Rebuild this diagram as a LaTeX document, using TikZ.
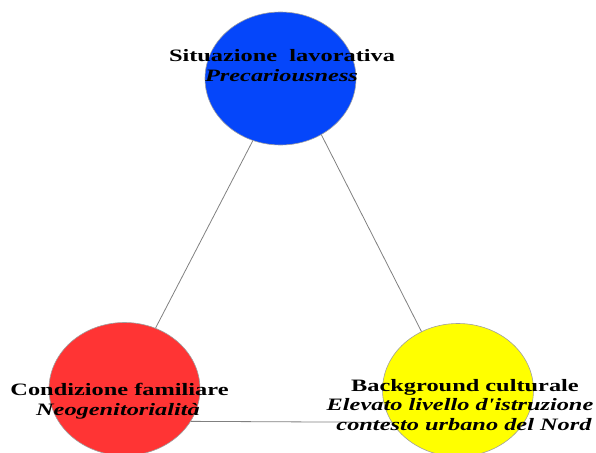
\documentclass[tikz,border=0pt]{standalone}
\usepackage{fontspec}
\setmainfont{Liberation Serif}
\usetikzlibrary{shapes.geometric}
\definecolor{cblue}{RGB}{5,70,250}
\definecolor{cred}{RGB}{255,52,52}
\definecolor{cyell}{RGB}{255,255,0}
\definecolor{clink}{RGB}{128,128,128}
\newcommand{\wtxt}[1]{\scalebox{1.4}[1]{#1}}
\tikzset{
  blob/.style={ellipse, draw=gray!75, line width=0.6pt, minimum width=151pt, minimum height=133pt, inner sep=0pt},
  link/.style={draw=clink, line width=0.8pt},
  lbl/.style={anchor=base, inner sep=0pt, font=\fontsize{17.4}{19}\selectfont}
}
\begin{document}
\begin{tikzpicture}[x=1pt,y=-1pt]
\useasboundingbox (0,0) rectangle (596,452);
\node[blob, fill=cblue] (lav) at (280.5,78.5) {};
\node[blob, fill=cred] (fam) at (124.5,389) {};
\node[blob, fill=cyell] (cul) at (458,390) {};
\draw[link] (lav.246) -- (fam.63);
\draw[link] (lav.-54) -- (cul.122);
\draw[link] (fam.-26.5) -- (cul.206);
\node[lbl] (t1) at (282,62) {\wtxt{\bfseries Situazione~~lavorativa}};
\node[lbl] (t2) at (281.5,81) {\wtxt{\bfseries\itshape Precariousness}};
\node[lbl] (t3) at (119.5,395) {\wtxt{\bfseries Condizione familiare}};
\node[lbl] (t4) at (118,415) {\wtxt{\bfseries\itshape Neogenitorialità}};
\node[lbl] (t5) at (465,391) {\wtxt{\bfseries Background culturale}};
\node[lbl] (t6) at (460,410.5) {\wtxt{\bfseries\itshape Elevato livello d\textquotesingle istruzione}};
\node[lbl] (t7) at (464,430) {\wtxt{\bfseries\itshape contesto urbano del Nord}};
\end{tikzpicture}
\end{document}
